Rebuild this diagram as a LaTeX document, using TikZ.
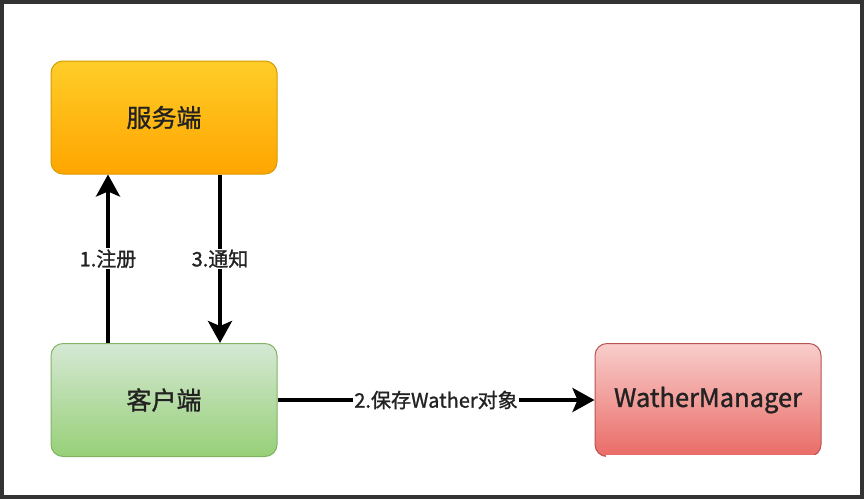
\documentclass[tikz,border=0pt]{standalone}
\usepackage{fontspec}
\setmainfont[FakeBold=1.2]{Noto Sans CJK SC}
\usetikzlibrary{arrows.meta}
\definecolor{framec}{HTML}{333333}
\definecolor{txt}{HTML}{222222}
\tikzset{
  box/.style={rounded corners=12pt, minimum width=226pt, minimum height=113pt, line width=1pt, inner sep=0pt, text=txt, font=\fontsize{25}{30}\selectfont},
  orangebox/.style={box, top color={rgb,255:red,255;green,205;blue,40}, bottom color={rgb,255:red,255;green,165;blue,0}, draw={rgb,255:red,215;green,155;blue,0}},
  greenbox/.style={box, top color={rgb,255:red,213;green,232;blue,212}, bottom color={rgb,255:red,151;green,208;blue,119}, draw={rgb,255:red,130;green,179;blue,102}},
  redbox/.style={box, top color={rgb,255:red,248;green,206;blue,204}, bottom color={rgb,255:red,234;green,107;blue,102}, draw={rgb,255:red,184;green,84;blue,80}, font=\fontsize{25.5}{30}\selectfont},
  conn/.style={line width=4pt, -{Stealth[length=22pt,width=24pt,inset=5pt]}},
  lbl/.style={fill=white, inner sep=1pt, text=txt, font=\fontsize{20}{23}\selectfont},
}
\begin{document}
\begin{tikzpicture}[x=1pt,y=-1pt]
\useasboundingbox (0,0) rectangle (864,499);
\fill[framec] (0,0) rectangle (864,499);
\fill[white] (4,4) rectangle (860,495);
\node[orangebox] (fw) at (164,117.5) {服务端};
\node[greenbox] (kh) at (164,400) {客户端};
\node[redbox] (wm) at (708,400) {WatherManager};
\fill[white] (606,455) rectangle (830,470);
\draw[conn] ([xshift=-56pt]kh.north) -- node[lbl] {1.注册} ([xshift=-56pt]fw.south);
\draw[conn] ([xshift=56pt]fw.south) -- node[lbl] {3.通知} ([xshift=56pt]kh.north);
\draw[conn] (kh.east) -- node[lbl] {2.保存Wather对象} (wm.west);
\end{tikzpicture}
\end{document}
